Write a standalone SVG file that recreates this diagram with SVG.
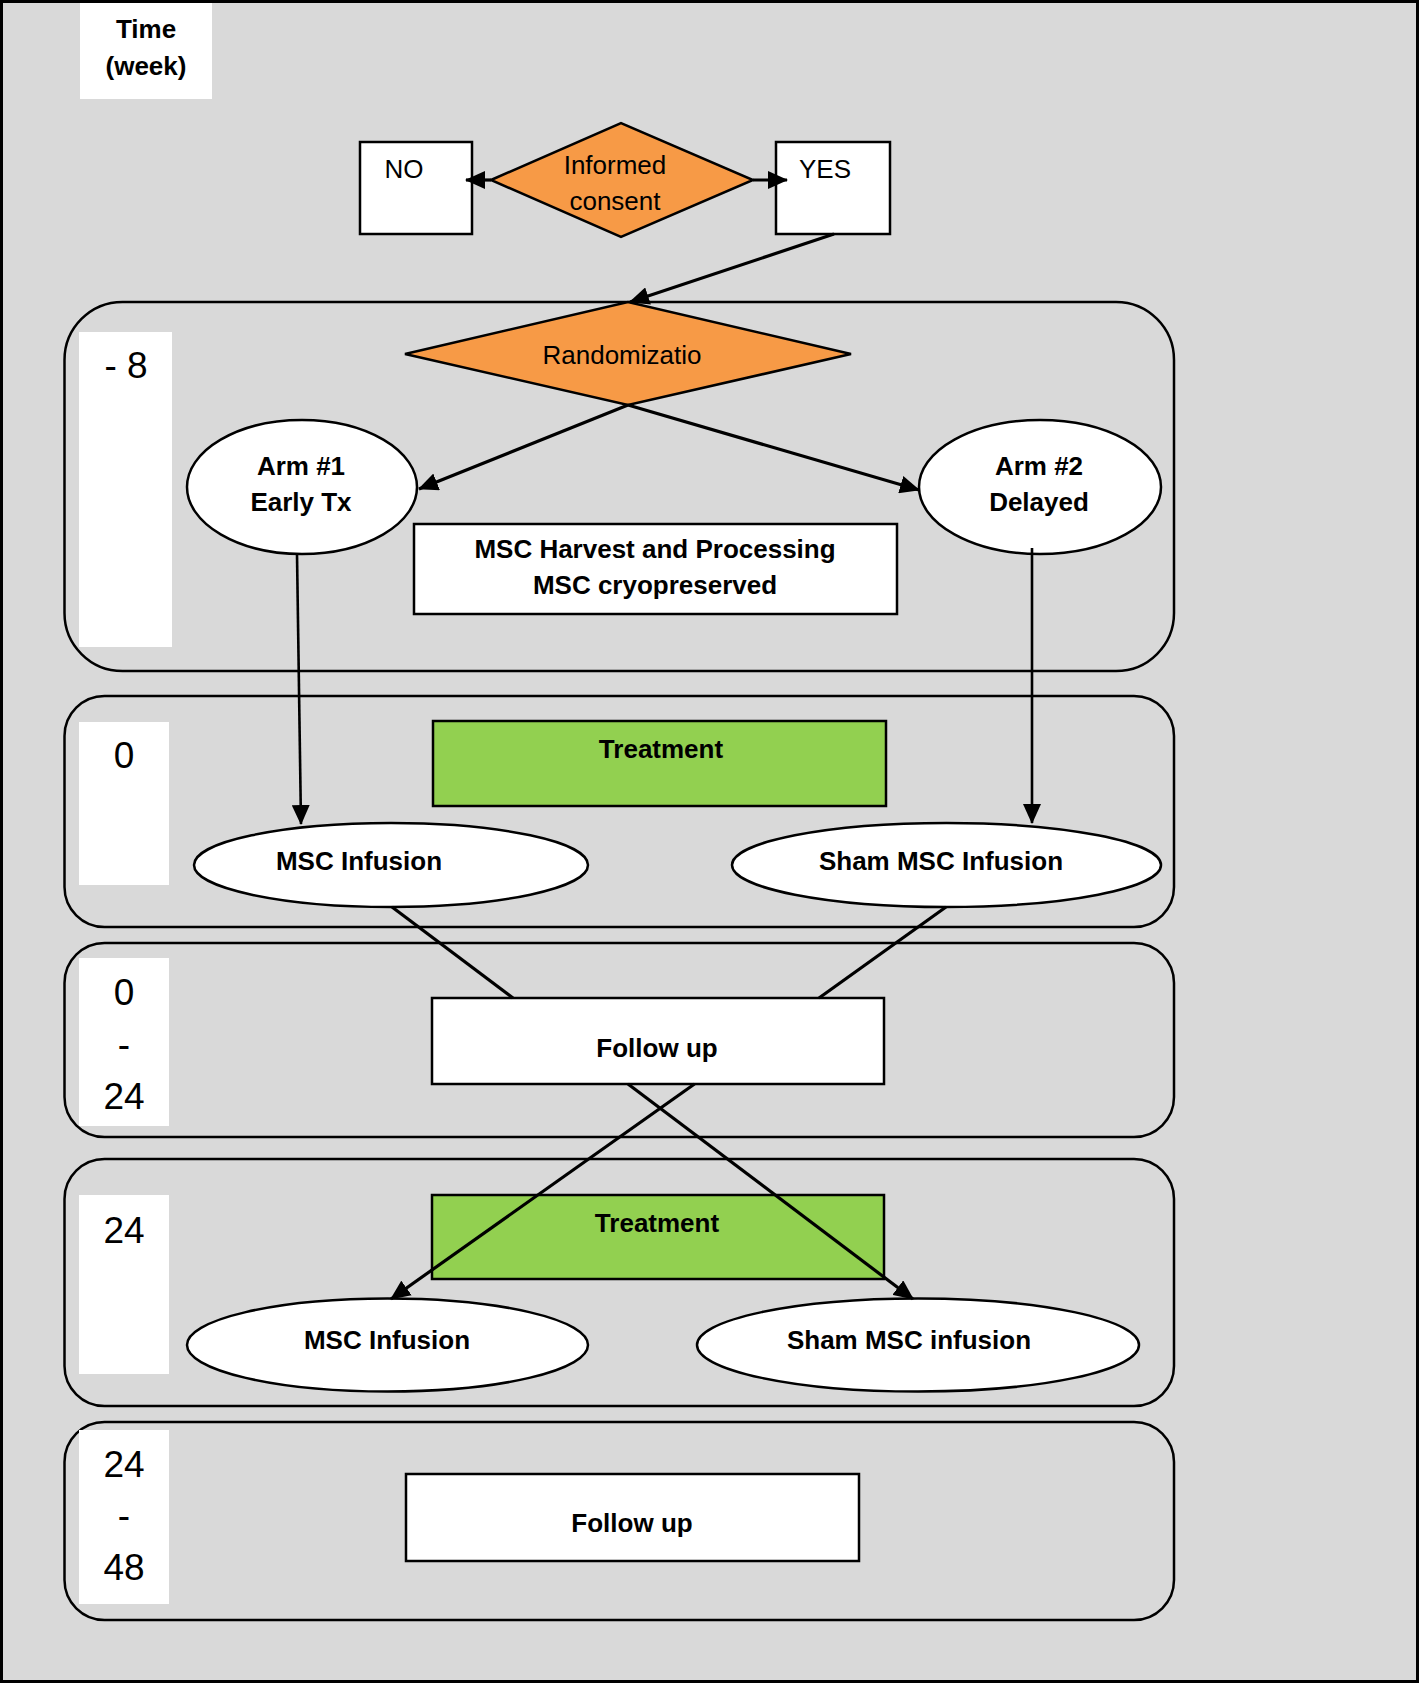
<svg xmlns="http://www.w3.org/2000/svg" width="1419" height="1683" viewBox="0 0 1419 1683">
<style>
.bg{fill:#d9d9d9;stroke:#000;stroke-width:3}
.panel{fill:none;stroke:#000;stroke-width:2.5}
.lab{fill:#fff;stroke:none}
.box{fill:#fff;stroke:#000;stroke-width:2.5}
.dia{fill:#f79a46;stroke:#000;stroke-width:2.5}
.tr{fill:#92d050;stroke:#000;stroke-width:2.5}
.ell{fill:#fff;stroke:#000;stroke-width:2.5}
text{font-family:"Liberation Sans",Arial,sans-serif;font-size:26px;fill:#000;text-anchor:middle}
.b{font-weight:bold}
.num{font-size:37px}
.c{fill:none;stroke:#000;stroke-width:3.2}
.thin{stroke-width:2.6}
</style>
<defs>
<marker id="ah" markerUnits="userSpaceOnUse" markerWidth="20" markerHeight="18" refX="19" refY="9" orient="auto">
<path d="M0,0 L20,9 L0,18 z" fill="#000"/>
</marker>
</defs>
<rect class="bg" x="1.5" y="1.5" width="1416" height="1680"/>
<g id="panels">
<rect class="panel" x="64.5" y="302" width="1109.5" height="369" rx="58" ry="58"/>
<rect class="panel" x="64.5" y="696" width="1109.5" height="231" rx="40" ry="40"/>
<rect class="panel" x="64.5" y="943" width="1109.5" height="194" rx="40" ry="40"/>
<rect class="panel" x="64.5" y="1159" width="1109.5" height="247" rx="40" ry="40"/>
<rect class="panel" x="64.5" y="1422" width="1109.5" height="198" rx="40" ry="40"/>
</g>
<g id="time-header">
<rect class="lab" x="80" y="3" width="132" height="96"/>
<text class="b" x="146" y="38">Time</text>
<text class="b" x="146" y="75">(week)</text>
</g>
<g id="time-m8">
<rect class="lab" x="79" y="332" width="93" height="315"/>
<text class="num" x="126" y="378">- 8</text>
</g>
<g id="time-0">
<rect class="lab" x="79" y="722" width="90" height="163"/>
<text class="num" x="124" y="768">0</text>
</g>
<g id="time-0-24">
<rect class="lab" x="79" y="958" width="90" height="168"/>
<text class="num" x="124" y="1005">0</text>
<text class="num" x="124" y="1057">-</text>
<text class="num" x="124" y="1109">24</text>
</g>
<g id="time-24">
<rect class="lab" x="79" y="1195" width="90" height="179"/>
<text class="num" x="124" y="1243">24</text>
</g>
<g id="time-24-48">
<rect class="lab" x="79" y="1430" width="90" height="174"/>
<text class="num" x="124" y="1477">24</text>
<text class="num" x="124" y="1528">-</text>
<text class="num" x="124" y="1580">48</text>
</g>
<g id="no">
<rect class="box" x="360" y="142" width="112" height="92"/>
<text x="404" y="178">NO</text>
</g>
<g id="yes">
<rect class="box" x="776" y="142" width="114" height="92"/>
<text x="825" y="178">YES</text>
</g>
<g id="consent">
<polygon class="dia" points="491,180 621,123 753,180 621,237"/>
<text x="615" y="174">Informed</text>
<text x="615" y="210">consent</text>
</g>
<g id="randomization">
<polygon class="dia" points="405,354 628,302 851,354 628,405"/>
<text x="622" y="364">Randomizatio</text>
</g>
<g id="arm1">
<ellipse class="ell" cx="302" cy="487" rx="115" ry="67"/>
<text class="b" x="301" y="475">Arm #1</text>
<text class="b" x="301" y="511">Early Tx</text>
</g>
<g id="arm2">
<ellipse class="ell" cx="1040" cy="487" rx="121" ry="67"/>
<text class="b" x="1039" y="475">Arm #2</text>
<text class="b" x="1039" y="511">Delayed</text>
</g>
<g id="harvest">
<rect class="box" x="414" y="524" width="483" height="90"/>
<text class="b" x="655" y="558">MSC Harvest and Processing</text>
<text class="b" x="655" y="594">MSC cryopreserved</text>
</g>
<g id="treatment1">
<rect class="tr" x="433" y="721" width="453" height="85"/>
<text class="b" x="661" y="758">Treatment</text>
</g>
<g id="msc-infusion1">
<ellipse class="ell" cx="391" cy="865" rx="197" ry="42"/>
<text class="b" x="359" y="870">MSC Infusion</text>
</g>
<g id="sham-infusion1">
<ellipse class="ell" cx="946.5" cy="865" rx="214.5" ry="42"/>
<text class="b" x="941" y="870">Sham MSC Infusion</text>
</g>
<g id="followup1">
<rect class="box" x="432" y="998" width="452" height="86"/>
<text class="b" x="657" y="1057">Follow up</text>
</g>
<g id="treatment2">
<rect class="tr" x="432" y="1195" width="452" height="84"/>
<text class="b" x="657" y="1232">Treatment</text>
</g>
<g id="msc-infusion2">
<ellipse class="ell" cx="387.5" cy="1345" rx="200.5" ry="46.5"/>
<text class="b" x="387" y="1349">MSC Infusion</text>
</g>
<g id="sham-infusion2">
<ellipse class="ell" cx="918" cy="1345" rx="221" ry="46.5"/>
<text class="b" x="909" y="1349">Sham MSC infusion</text>
</g>
<g id="followup2">
<rect class="box" x="406" y="1474" width="453" height="87"/>
<text class="b" x="632" y="1532">Follow up</text>
</g>
<g id="connectors">
<line class="c" x1="491" y1="180" x2="466" y2="180" marker-end="url(#ah)"/>
<line class="c" x1="753" y1="180" x2="787" y2="180" marker-end="url(#ah)"/>
<line class="c" x1="834" y1="234" x2="630" y2="302" marker-end="url(#ah)"/>
<line class="c" x1="628" y1="405" x2="419" y2="489" marker-end="url(#ah)"/>
<line class="c" x1="628" y1="405" x2="919" y2="490" marker-end="url(#ah)"/>
<line class="c thin" x1="297" y1="554" x2="301" y2="824" marker-end="url(#ah)"/>
<line class="c thin" x1="1032" y1="548" x2="1032" y2="823" marker-end="url(#ah)"/>
<line class="c" x1="392" y1="907" x2="513" y2="998"/>
<line class="c" x1="946" y1="907" x2="819" y2="998"/>
<line class="c" x1="694.5" y1="1084" x2="391" y2="1299" marker-end="url(#ah)"/>
<line class="c" x1="628" y1="1084" x2="913" y2="1299" marker-end="url(#ah)"/>
</g>
</svg>
